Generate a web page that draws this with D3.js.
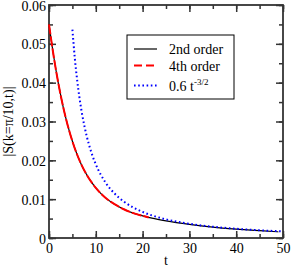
<!DOCTYPE html>
<html>
<head>
<meta charset="utf-8">
<script src="https://cdn.jsdelivr.net/npm/d3@7"></script>
<style>
  body { margin: 0; background: #fff; }
</style>
</head>
<body>
<div id="chart"></div>
<script>
// data
var secondT = [0, 1, 2, 3, 4, 5, 6, 7, 8, 9, 10, 12, 14, 16, 18, 20, 22, 25, 30, 35, 40, 45, 49];
var secondV = [0.0550, 0.0468, 0.0398, 0.0339, 0.0290, 0.0249, 0.0215, 0.0187, 0.0164, 0.0145, 0.0129, 0.0104, 0.0087, 0.0074, 0.0064, 0.0057, 0.0051, 0.0044, 0.0035, 0.0028, 0.0023, 0.0019, 0.0016];
var fourthT = [0, 1, 2, 3, 4, 5, 6, 7, 8, 9, 10, 12, 14, 16, 18, 20, 21.3];
var fourthV = [0.0550, 0.0468, 0.0398, 0.0339, 0.0290, 0.0249, 0.0215, 0.0187, 0.0164, 0.0145, 0.0129, 0.0104, 0.0087, 0.0074, 0.0064, 0.0057, 0.0053];
var powerT = [5, 5.5, 6, 6.5, 7, 8, 9, 10, 12, 14, 16, 18, 20, 22, 25, 30, 35, 40, 45, 49.5];
var powerV = [0.05367, 0.04652, 0.04082, 0.03621, 0.03240, 0.02652, 0.02222, 0.01897, 0.01443, 0.01145, 0.00938, 0.00786, 0.00671, 0.00582, 0.00480, 0.00365, 0.00290, 0.00237, 0.00199, 0.00172];
var xTicks = [0, 10, 20, 30, 40, 50];
var yTicks = [0, 0.01, 0.02, 0.03, 0.04, 0.05, 0.06];
var legendLabels = ["2nd order", "4th order", "0.6 t"];

var serif = "Liberation Serif";

var svgWidth = 291;
var svgHeight = 268;
var margin = { top: 5, right: 8, bottom: 30, left: 49 };
var width = svgWidth - margin.left - margin.right;
var height = svgHeight - margin.top - margin.bottom;

var svg = d3.select("#chart")
    .append("svg")
    .attr("width", svgWidth)
    .attr("height", svgHeight)
    .style("font-family", serif);

var chartGroup = svg.append("g")
    .attr("transform", `translate(${margin.left}, ${margin.top})`);

var x = d3.scaleLinear().domain([0, 50]).range([0, width]);
var y = d3.scaleLinear().domain([0, 0.06]).range([height, 0]);

var xMinor = d3.range(0, 50.01, 5);
var yMinor = d3.range(0, 0.0601, 0.005);

// inward ticks on all four sides
function tickAxis(axisFn, scale, vals, size) {
  return axisFn(scale).tickValues(vals).tickSizeInner(-size).tickSizeOuter(0).tickFormat("");
}

var xAxisB = chartGroup.append("g").attr("transform", `translate(0, ${height})`);
xAxisB.call(tickAxis(d3.axisBottom, x, xMinor, 4));
xAxisB.append("g").call(tickAxis(d3.axisBottom, x, xTicks, 7).tickFormat(d3.format("d")));

var xAxisT = chartGroup.append("g");
xAxisT.call(tickAxis(d3.axisTop, x, xMinor, 4));
xAxisT.append("g").call(tickAxis(d3.axisTop, x, xTicks, 7));

var yAxisL = chartGroup.append("g");
yAxisL.call(tickAxis(d3.axisLeft, y, yMinor, 4));
yAxisL.append("g").call(tickAxis(d3.axisLeft, y, yTicks, 7).tickFormat(d => d === 0 ? "0" : d3.format(".2f")(d)));

var yAxisR = chartGroup.append("g").attr("transform", `translate(${width}, 0)`);
yAxisR.call(tickAxis(d3.axisRight, y, yMinor, 4));
yAxisR.append("g").call(tickAxis(d3.axisRight, y, yTicks, 7));

chartGroup.selectAll(".domain").remove();
chartGroup.selectAll("g").attr("font-family", null);
chartGroup.selectAll(".tick line").attr("stroke", "#333").attr("stroke-width", 1.5);
chartGroup.selectAll(".tick text")
  .style("font-family", serif).attr("font-size", 14).attr("fill", "#000");
xAxisB.selectAll(".tick text").attr("y", 5);
yAxisL.selectAll(".tick text").attr("x", -3).attr("dy", "0.36em");

// frame
chartGroup.append("rect")
  .attr("width", width).attr("height", height)
  .attr("fill", "none").attr("stroke", "#333").attr("stroke-width", 1.8);

var line = d3.line()
  .x(d => x(d[0]))
  .y(d => y(d[1]))
  .curve(d3.curveMonotoneX);

var plot = chartGroup.append("g");
plot.append("path")
  .datum(secondT.map((t, i) => [t, secondV[i]]))
  .attr("d", line).attr("fill", "none")
  .attr("stroke", "#000").attr("stroke-width", 1.2);
plot.append("path")
  .datum(fourthT.map((t, i) => [t, fourthV[i]]))
  .attr("d", line).attr("fill", "none")
  .attr("stroke", "#ff0000").attr("stroke-width", 2).attr("stroke-dasharray", "10,2");
plot.append("path")
  .datum(powerT.map((t, i) => [t, powerV[i]]))
  .attr("d", line).attr("fill", "none")
  .attr("stroke", "#0000ff").attr("stroke-width", 2).attr("stroke-dasharray", "1.6,2.6");

// axis titles
svg.append("text")
  .attr("x", margin.left + width / 2).attr("y", 265)
  .attr("text-anchor", "middle")
  .style("font-family", serif).attr("font-size", 14)
  .text("t");
svg.append("text")
  .attr("transform", `translate(13, ${margin.top + height / 2}) rotate(-90)`)
  .attr("text-anchor", "middle")
  .style("font-family", serif).attr("font-size", 14)
  .text("|S(k=\u03c0/10,t)|");

// legend
var legend = svg.append("g").attr("transform", "translate(127, 35)");
legend.append("rect")
  .attr("width", 107).attr("height", 64)
  .attr("fill", "#fff").attr("stroke", "#000").attr("stroke-width", 1);
var styles = [
  { stroke: "#000", w: 1.2, dash: null },
  { stroke: "#ff0000", w: 2, dash: "8,4" },
  { stroke: "#0000ff", w: 2, dash: "1.6,2.6" }
];
var rowY = [14, 30.5, 50.5];
legendLabels.forEach(function(lbl, i) {
  legend.append("line")
    .attr("x1", 7).attr("x2", 30).attr("y1", rowY[i]).attr("y2", rowY[i])
    .attr("stroke", styles[i].stroke).attr("stroke-width", styles[i].w)
    .attr("stroke-dasharray", styles[i].dash);
  var t = legend.append("text")
    .attr("x", 42).attr("y", rowY[i] + 5)
    .style("font-family", serif).attr("font-size", 14)
    .text(lbl);
  if (i === 2) {
    t.append("tspan").attr("dy", -6).attr("font-size", 9).text("-3/2");
  }
});
</script>
</body>
</html>
